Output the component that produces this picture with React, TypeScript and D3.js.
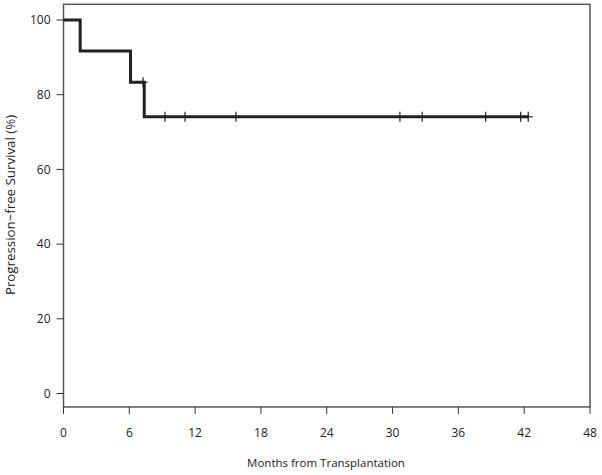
import React, { useEffect, useRef } from "react";
import * as d3 from "d3";

// Kaplan-Meier steps (months, % progression-free)
const stepTimes = [0, 1.52, 6.11, 7.36];
const stepValues = [100, 91.67, 83.33, 74.07];
const endTime = 42.37;
// censored observations (months)
const censorTimes = [7.25, 9.25, 11.08, 15.72, 30.67, 32.7, 38.49, 41.68, 42.37];
const xTicks = [0, 6, 12, 18, 24, 30, 36, 42, 48];
const yTicks = [0, 20, 40, 60, 80, 100];

const W = 602;
const H = 475;

const survAt = (t: number) => {
  let v = stepValues[0];
  stepTimes.forEach((s, i) => {
    if (t >= s) v = stepValues[i];
  });
  return v;
};

const App = () => {
  const ref = useRef<SVGSVGElement>(null);

  useEffect(() => {
    const svg = d3.select(ref.current);
    svg.selectAll("*").remove();

    const x = d3.scaleLinear().domain([0, 48]).range([63.5, 590]);
    const y = d3.scaleLinear().domain([0, 100]).range([393.5, 20]);
    const font = "'Open Sans', 'DejaVu Sans', sans-serif";

    // box
    svg
      .append("rect")
      .attr("x", x(0))
      .attr("y", y(104.2))
      .attr("width", x(48) - x(0))
      .attr("height", y(-3.6) - y(104.2))
      .attr("fill", "none")
      .attr("stroke", "#555")
      .attr("stroke-width", 1.5);

    // x axis
    const xa = svg.append("g").attr("transform", `translate(0,${y(-3.6)})`);
    xa.selectAll("line")
      .data(xTicks)
      .enter()
      .append("line")
      .attr("x1", (d) => x(d))
      .attr("x2", (d) => x(d))
      .attr("y1", 0)
      .attr("y2", 7)
      .attr("stroke", "#333")
      .attr("stroke-width", 1);
    xa.selectAll("text")
      .data(xTicks)
      .enter()
      .append("text")
      .attr("x", (d) => x(d))
      .attr("y", 30)
      .attr("text-anchor", "middle")
      .style("font-family", font)
      .style("font-size", "12px")
      .style("fill", "#222")
      .text((d) => d);

    // y axis
    const ya = svg.append("g").attr("transform", `translate(${x(0)},0)`);
    ya.selectAll("line")
      .data(yTicks)
      .enter()
      .append("line")
      .attr("x1", -7)
      .attr("x2", 0)
      .attr("y1", (d) => y(d))
      .attr("y2", (d) => y(d))
      .attr("stroke", "#333")
      .attr("stroke-width", 1);
    ya.selectAll("text")
      .data(yTicks)
      .enter()
      .append("text")
      .attr("x", -13)
      .attr("y", (d) => y(d))
      .attr("dy", "0.35em")
      .attr("text-anchor", "end")
      .style("font-family", font)
      .style("font-size", "12px")
      .style("fill", "#222")
      .text((d) => d);

    // axis titles
    svg
      .append("text")
      .attr("x", 326)
      .attr("y", 467)
      .attr("text-anchor", "middle")
      .style("font-family", font)
      .style("font-size", "11.5px")
      .style("fill", "#222")
      .text("Months from Transplantation");
    svg
      .append("text")
      .attr("transform", `translate(15,205) rotate(-90)`)
      .attr("text-anchor", "middle")
      .style("font-family", font)
      .style("font-size", "13.3px")
      .style("fill", "#222")
      .text("Progression\u2212free Survival (%)");

    // step curve
    const pts: [number, number][] = stepTimes.map((t, i) => [t, stepValues[i]]);
    pts.push([endTime, stepValues[stepValues.length - 1]]);
    const line = d3
      .line<[number, number]>()
      .x((d) => x(d[0]))
      .y((d) => y(d[1]))
      .curve(d3.curveStepAfter);
    svg
      .append("path")
      .attr("d", line(pts))
      .attr("fill", "none")
      .attr("stroke", "#222")
      .attr("stroke-width", 3);

    // censor marks (+)
    const cg = svg.append("g").attr("stroke", "#222").attr("stroke-width", 1.2);
    censorTimes.forEach((t) => {
      const cx = x(t);
      const cy = y(survAt(t));
      cg.append("line").attr("x1", cx).attr("x2", cx).attr("y1", cy - 5).attr("y2", cy + 5);
      cg.append("line").attr("x1", cx - 4.5).attr("x2", cx + 4.5).attr("y1", cy).attr("y2", cy);
    });
  }, []);

  return (
    <svg
      ref={ref}
      width={W}
      height={H}
      style={{ position: "absolute", left: 0, top: 0, background: "#fff" }}
    />
  );
};

export default App;
